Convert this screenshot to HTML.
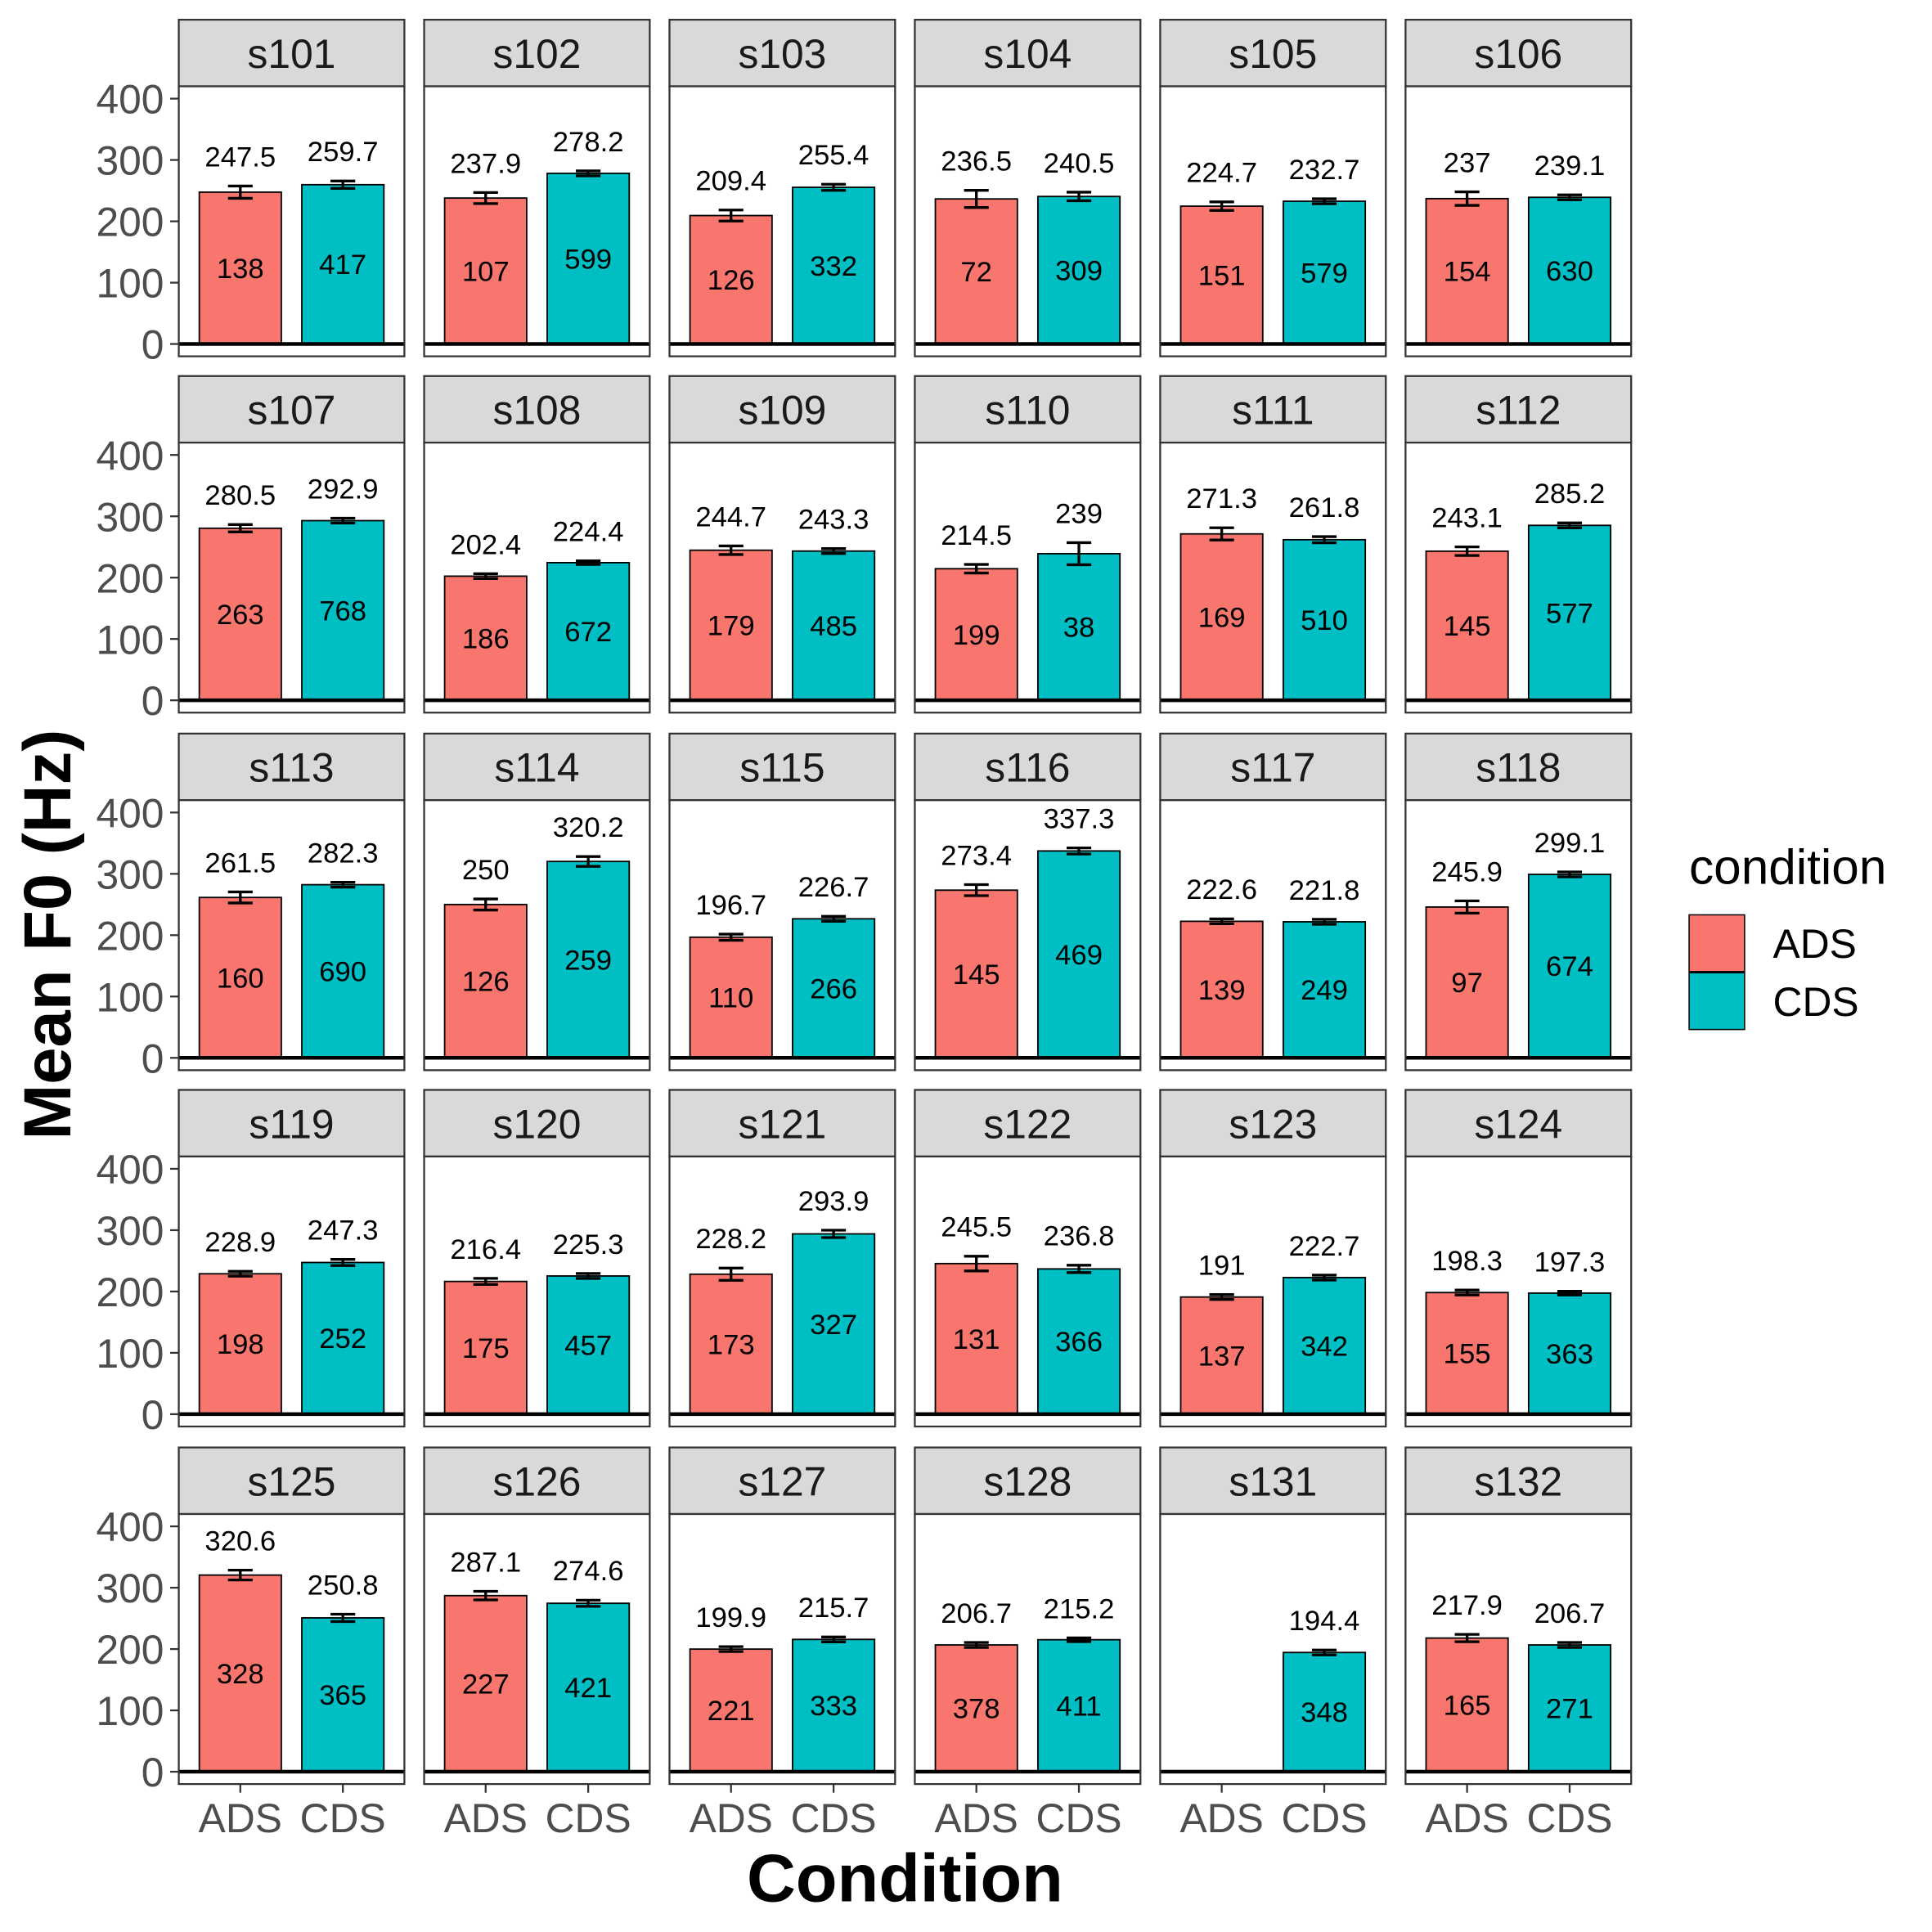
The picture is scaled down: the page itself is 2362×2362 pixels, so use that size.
<!DOCTYPE html>
<html><head><meta charset="utf-8"><style>html,body{margin:0;padding:0;background:#fff}svg{display:block}</style></head>
<body>
<svg id="chart" width="2362" height="2362" viewBox="0 0 1567 1567" preserveAspectRatio="none" xmlns="http://www.w3.org/2000/svg" font-family="Liberation Sans, Arial, sans-serif"></svg>
<script>
const speakers = ["s101","s102","s103","s104","s105","s106","s107","s108","s109","s110","s111","s112","s113","s114","s115","s116","s117","s118","s119","s120","s121","s122","s123","s124","s125","s126","s127","s128","s131","s132"];
const adsMean = [247.5,237.9,209.4,236.5,224.7,237,280.5,202.4,244.7,214.5,271.3,243.1,261.5,250,196.7,273.4,222.6,245.9,228.9,216.4,228.2,245.5,191,198.3,320.6,287.1,199.9,206.7,null,217.9];
const cdsMean = [259.7,278.2,255.4,240.5,232.7,239.1,292.9,224.4,243.3,239,261.8,285.2,282.3,320.2,226.7,337.3,221.8,299.1,247.3,225.3,293.9,236.8,222.7,197.3,250.8,274.6,215.7,215.2,194.4,206.7];
const adsN = [138,107,126,72,151,154,263,186,179,199,169,145,160,126,110,145,139,97,198,175,173,131,137,155,328,227,221,378,null,165];
const cdsN = [417,599,332,309,579,630,768,672,485,38,510,577,690,259,266,469,249,674,252,457,327,366,342,363,365,421,333,411,348,271];
const adsSe = [10,9,9,14,7,11,6,4,7,7,10,7,9,9,5,9,4,10,4,5,10,12,4,4,8,7,4,4,null,6];
const cdsSe = [6,4,5,7,4,4,4,3,4,18,5,4,4,8,4,5,4,4,5,4,6,6,4,3,6,5,4,3,4,4];
const yTicks = [0,100,200,300,400];
const conditions = ["ADS","CDS"];
const colors = ["#F8766D","#00BFC4"];

const svg = document.getElementById('chart');
const NS = "http://www.w3.org/2000/svg";
function mk(tag, attrs, parent){const e=document.createElementNS(NS,tag);for(const k in attrs)e.setAttribute(k,attrs[k]);(parent||svg).appendChild(e);return e;}

const colX=[145,344,543,742,941,1140], rowY=[16,305,595,884,1174];
const PW=183, STRIP=54, PH=219, Y0OFF=263, PXU=0.4975;
function yScale(v,top){return top+Y0OFF-v*PXU;}
function xScale(i,left){return left+(0.6+i)*PW/2.2;}
const barW=0.8*PW/2.2;

speakers.forEach((sp,idx)=>{
  const r=Math.floor(idx/6), c=idx%6, left=colX[c], top=rowY[r];
  const g=mk('g',{});
  
  
  const strip=mk('rect',{x:left,y:top,width:PW,height:STRIP,fill:'#d9d9d9',stroke:'#333',"stroke-width":1.5},g);
  
  
  const st=mk('text',{x:left+PW/2,y:top+39,"text-anchor":"middle","font-size":33,fill:'#1a1a1a'},g);
  st.textContent=sp;
  
  
  const ptop=top+STRIP;
  mk('rect',{x:left,y:ptop,width:PW,height:PH,fill:'#fff',stroke:'none'},g);
  const means=[adsMean[idx],cdsMean[idx]], ns=[adsN[idx],cdsN[idx]], ses=[adsSe[idx],cdsSe[idx]];
  means.forEach((m,i)=>{
    if(m==null) return;
    const cx=xScale(i,left), yt=yScale(m,top), yb=yScale(0,top);
    const b=mk('rect',{x:cx-barW/2,y:yt,width:barW,height:yb-yt,fill:colors[i],stroke:'#000',"stroke-width":1.2},g);
    
    
    const se=ses[i], e1=yScale(m+se,top), e2=yScale(m-se,top);
    const eb=mk('path',{d:`M${cx-10},${e1}H${cx+10}M${cx},${e1}V${e2}M${cx-10},${e2}H${cx+10}`,stroke:'#000',"stroke-width":2.2,fill:'none'},g);
    
    
    const vl=mk('text',{x:cx,y:e1-16,"text-anchor":"middle","font-size":23,fill:'#000'},g);
    vl.textContent=String(m);
    
    
    const nl=mk('text',{x:cx,y:yScale(m/2,top)+8,"text-anchor":"middle","font-size":23,fill:'#000'},g);
    nl.textContent=String(ns[i]);
    
    
  });
  const hl=mk('line',{x1:left,x2:left+PW,y1:yScale(0,top),y2:yScale(0,top),stroke:'#000',"stroke-width":3},g);
  
  
  mk('rect',{x:left,y:ptop,width:PW,height:PH,fill:'none',stroke:'#333',"stroke-width":1.5},g);
  if(c===0){
    yTicks.forEach(t=>{
      const y=yScale(t,top);
      mk('line',{x1:left-7,x2:left,y1:y,y2:y,stroke:'#333',"stroke-width":1.5},g);
      const tl=mk('text',{x:left-12,y:y+12,"text-anchor":"end","font-size":33,fill:'#4d4d4d'},g);
      tl.textContent=t;
      
      
    });
  }
  if(r===4){
    conditions.forEach((cn,i)=>{
      const x=xScale(i,left), y=top+STRIP+PH;
      mk('line',{x1:x,x2:x,y1:y,y2:y+7,stroke:'#333',"stroke-width":1.5},g);
      const xl=mk('text',{x:x,y:y+39,"text-anchor":"middle","font-size":33,fill:'#4d4d4d'},g);
      xl.textContent=cn;
      
      
    });
  }
});

const yt=mk('text',{x:0,y:0,transform:'translate(57,758) rotate(-90)',"text-anchor":"middle","font-size":54,"font-weight":"bold",fill:'#000'});
yt.textContent='Mean F0 (Hz)';


const xt=mk('text',{x:734,y:1542,"text-anchor":"middle","font-size":55,"font-weight":"bold",fill:'#000'});
xt.textContent='Condition';



const lg=mk('g',{});


const lt=mk('text',{x:1370,y:717,"font-size":40,fill:'#000'},lg);
lt.textContent='condition';


conditions.forEach((cn,i)=>{
  const y=742+i*47;
  const k=mk('rect',{x:1370,y:y,width:45,height:46,fill:colors[i],stroke:'#000',"stroke-width":1},lg);
  
  
  const t=mk('text',{x:1438,y:y+35,"font-size":33,fill:'#000'},lg);
  t.textContent=cn;
  
  
});
</script>
</body></html>
